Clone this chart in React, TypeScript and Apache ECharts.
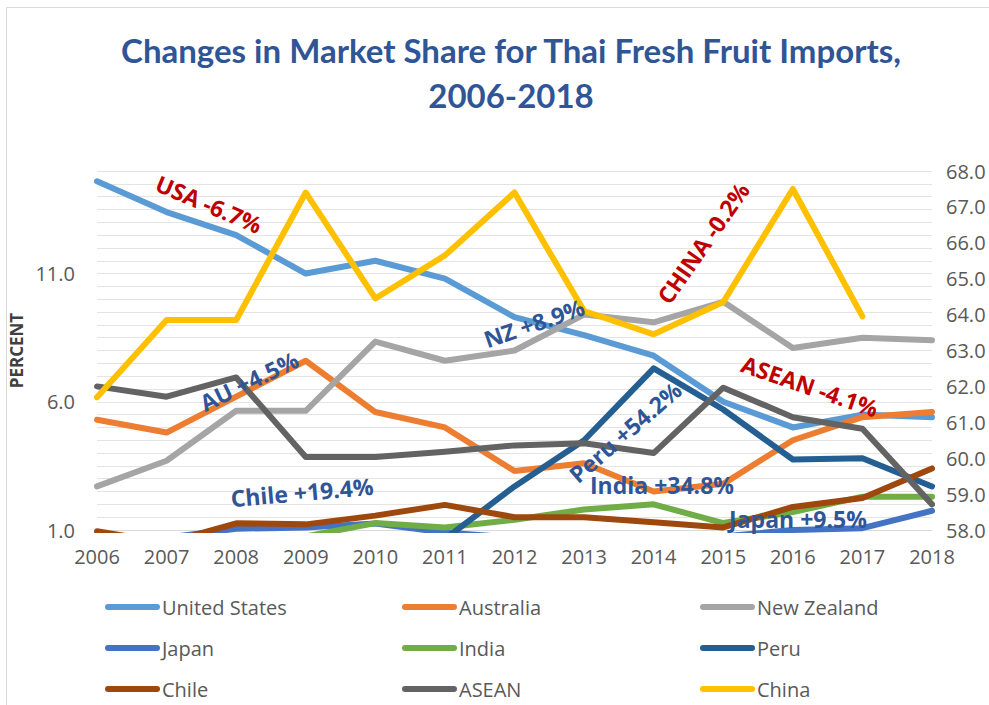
import React, { useEffect, useRef } from "react";
import * as echarts from "echarts";

const years = ["2006", "2007", "2008", "2009", "2010", "2011", "2012", "2013", "2014", "2015", "2016", "2017", "2018"];

const unitedStates = [14.6, 13.4, 12.5, 11.0, 11.5, 10.8, 9.3, 8.6, 7.8, 6.0, 5.0, 5.5, 5.4];
const australia = [5.3, 4.8, 6.2, 7.6, 5.6, 5.0, 3.3, 3.6, 2.5, 2.8, 4.5, 5.4, 5.6];
const newZealand = [2.7, 3.7, 5.65, 5.65, 8.35, 7.6, 8.0, 9.4, 9.1, 9.9, 8.1, 8.5, 8.4];
const japan = [0.6, 0.7, 1.05, 1.1, 1.25, 0.9, 0.7, 0.7, 0.7, 0.75, 1.0, 1.07, 1.75];
const india = [0.5, 0.5, 0.6, 0.75, 1.27, 1.1, 1.4, 1.8, 2.0, 1.27, 1.7, 2.3, 2.3];
const peru = [0.3, 0.3, 0.4, 0.5, 0.6, 0.65, 2.7, 4.5, 7.3, 5.7, 3.75, 3.8, 2.7];
const chile = [0.95, 0.5, 1.26, 1.22, 1.56, 1.98, 1.5, 1.5, 1.3, 1.1, 1.9, 2.25, 3.4];
const asean = [6.6, 6.2, 6.95, 3.85, 3.85, 4.05, 4.3, 4.38, 4.0, 6.55, 5.4, 4.95, 2.0];
const china = [61.7, 63.85, 63.85, 67.4, 64.45, 65.65, 67.4, 64.1, 63.45, 64.35, 67.5, 63.95, null];

const seriesNames = ["United States", "Australia", "New Zealand", "Japan", "India", "Peru", "Chile", "ASEAN", "China"];
const seriesColors = ["#5B9BD5", "#ED7D31", "#A5A5A5", "#4472C4", "#70AD47", "#255E91", "#9E480E", "#636363", "#FFC000"];
const seriesData = [unitedStates, australia, newZealand, japan, india, peru, chile, asean, china];

const annotationTexts = ["USA -6.7%", "AU +4.5%", "Chile +19.4%", "NZ +8.9%", "CHINA -0.2%", "ASEAN -4.1%", "Peru +54.2%", "India +34.8%", "Japan +9.5%"];

const TITLE_COLOR = "#2F5597";
const RED = "#C00000";
const LABEL_BLUE = "#2F5597";
const AXIS_TEXT = "#595959";

export default function App() {
  const ref = useRef<HTMLDivElement>(null);

  useEffect(() => {
    if (!ref.current) return;
    const chart = echarts.init(ref.current, undefined, { renderer: "svg" });

    const legendCols = [105, 402, 700];
    const legendRows = [597, 638, 679];
    const legends = seriesNames.map((name, i) => ({
      data: [name],
      left: legendCols[i % 3],
      top: legendRows[Math.floor(i / 3)],
      orient: "horizontal",
      padding: 0,
      itemGap: 0,
      itemWidth: 55,
      itemHeight: 6,
      icon: "path://M3,0 L52,0 A3,3 0 0 1 52,6 L3,6 A3,3 0 0 1 3,0 Z",
      selectedMode: false,
      textStyle: { fontSize: 20, color: AXIS_TEXT, fontFamily: "Open Sans", padding: [0, 0, 0, -3] },
    }));

    const annPos = [
      { x: 209, y: 204, r: -23, c: RED },
      { x: 249, y: 381, r: 26, c: LABEL_BLUE },
      { x: 302, y: 492, r: 5, c: LABEL_BLUE },
      { x: 534, y: 323, r: 19, c: LABEL_BLUE },
      { x: 703, y: 243, r: 55, c: RED },
      { x: 810, y: 386, r: -19, c: RED },
      { x: 625, y: 432, r: 41, c: LABEL_BLUE },
      { x: 662, y: 485, r: 0, c: LABEL_BLUE },
      { x: 798, y: 519, r: 0, c: LABEL_BLUE },
    ];

    const annotations = annotationTexts.map((t, i) => ({
      type: "text",
      x: annPos[i].x,
      y: annPos[i].y,
      rotation: (annPos[i].r * Math.PI) / 180,
      z: 100,
      style: {
        text: t,
        fill: annPos[i].c,
        fontSize: 23,
        fontWeight: "bold",
        fontFamily: "Open Sans",
        align: "center",
        verticalAlign: "middle",
        textAlign: "center",
        textVerticalAlign: "middle",
      },
    }));

    const option: any = {
      animation: false,
      backgroundColor: "#ffffff",
      title: {
        text: "Changes in Market Share for Thai Fresh Fruit Imports,\n2006-2018",
        left: 506,
        top: 22,
        textAlign: "center",
        textStyle: {
          fontFamily: "Lato",
          fontWeight: "bold",
          fontSize: 33,
          lineHeight: 45,
          color: TITLE_COLOR,
        },
      },
      legend: legends,
      grid: { left: 97, top: 171, width: 835, height: 359, containLabel: false, outerBoundsMode: "none" },
      xAxis: {
        type: "category",
        data: years,
        boundaryGap: false,
        axisLine: { show: true, lineStyle: { color: "#d9d9d9", width: 1 } },
        axisTick: { show: false },
        axisLabel: { color: AXIS_TEXT, fontSize: 20, fontFamily: "Open Sans", margin: 16 },
        splitLine: { show: false },
      },
      yAxis: [
        {
          type: "value",
          min: 1,
          max: 15,
          interval: 0.5,
          name: "PERCENT",
          nameLocation: "middle",
          nameRotate: 90,
          nameGap: 64,
          nameTextStyle: { fontFamily: "Open Sans", fontWeight: "bold", fontSize: 17, color: "#404040" },
          axisLine: { show: false },
          axisTick: { show: false },
          axisLabel: {
            color: AXIS_TEXT,
            fontSize: 20,
            fontFamily: "Open Sans",
            margin: 22,
            formatter: (v: number) => {
              const k = (v - 1) / 5;
              return Math.abs(k - Math.round(k)) < 1e-6 && v < 14.9 ? v.toFixed(1) : "";
            },
          },
          splitLine: { show: true, lineStyle: { color: "#e4e4e4", width: 1 } },
        },
        {
          type: "value",
          min: 58,
          max: 68,
          interval: 1,
          position: "right",
          axisLine: { show: false },
          axisTick: { show: false },
          axisLabel: {
            color: AXIS_TEXT,
            fontSize: 20,
            fontFamily: "Open Sans",
            margin: 14,
            formatter: (v: number) => v.toFixed(1),
          },
          splitLine: { show: false },
        },
      ],
      series: seriesNames.map((name, i) => ({
        name,
        type: "line",
        yAxisIndex: name === "China" ? 1 : 0,
        data: seriesData[i],
        showSymbol: false,
        symbol: "none",
        clip: true,
        connectNulls: false,
        color: seriesColors[i],
        lineStyle: { color: seriesColors[i], width: 6, cap: "round", join: "round" },
        z: 2 + i * 0.01,
      })),
      graphic: [
        {
          type: "rect",
          shape: { x: 6.5, y: 7.5, width: 1100, height: 900 },
          style: { fill: "none", stroke: "#d9d9d9", lineWidth: 1 },
          silent: true,
          z: -10,
        },
        ...annotations,
      ],
    };

    chart.setOption(option);
    return () => chart.dispose();
  }, []);

  return <div ref={ref} style={{ position: "absolute", left: 0, top: 0, width: 989, height: 705 }} />;
}
